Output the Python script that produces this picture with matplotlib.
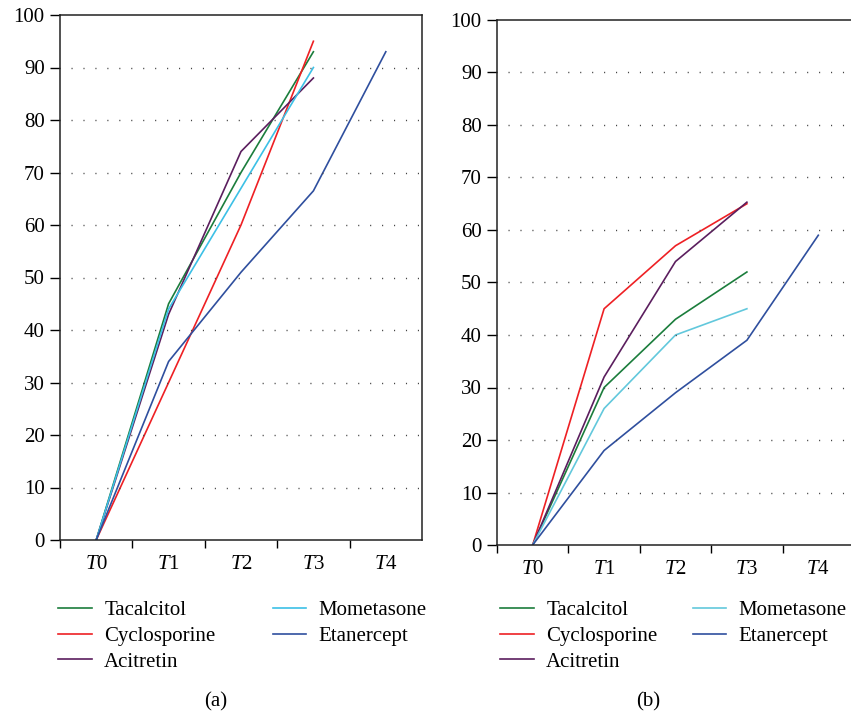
import matplotlib
matplotlib.use('Agg')
import matplotlib.pyplot as plt
import numpy as np

plt.rcParams['font.family'] = ['Liberation Serif', 'DejaVu Serif']
plt.rcParams['mathtext.fontset'] = 'custom'
plt.rcParams['mathtext.rm'] = 'Liberation Serif'
plt.rcParams['mathtext.it'] = 'Liberation Serif:italic'

times = [r'$T$0', r'$T$1', r'$T$2', r'$T$3', r'$T$4']
drugs = ['Tacalcitol', 'Cyclosporine', 'Acitretin', 'Mometasone', 'Etanercept']

# panel (a)
a_tacalcitol = [0, 45, 70, 93]
a_cyclosporine = [0, 30, 60, 95]
a_acitretin = [0, 43, 74, 88]
a_mometasone = [0, 44, 67, 90]
a_etanercept = [0, 34, 51, 66.5, 93]

# panel (b)
b_tacalcitol = [0, 30, 43, 52]
b_cyclosporine = [0, 45, 57, 65]
b_acitretin = [0, 32, 54, 65.3]
b_mometasone = [0, 26, 40, 45]
b_etanercept = [0, 18, 29, 39, 59]

colors_a = ['#1b7d3c', '#ee2024', '#5b1e5e', '#3cc0e6', '#2f4f9e']
colors_b = ['#1b7d3c', '#ee2024', '#5b1e5e', '#62c8dc', '#2f4f9e']

FS = 15


def draw_panel(ax, series, colors):
	for name, vals, c in zip(drugs, series, colors):
		ax.plot(np.arange(len(vals)), vals, color=c, lw=1.2, label=name)
	ax.set_xlim(-0.5, 4.5)
	ax.set_ylim(0, 100)
	ax.set_yticks(np.arange(0, 101, 10))
	ax.set_xticks(np.arange(-0.5, 4.0, 1.0))
	ax.set_xticklabels([])
	ax.set_xticks(np.arange(5), minor=True)
	ax.set_xticklabels(times, minor=True)
	ax.tick_params(axis='x', which='major', direction='out', length=6, width=1)
	ax.tick_params(axis='x', which='minor', length=0, pad=11, labelsize=FS)
	ax.tick_params(axis='y', direction='out', length=7, width=1, labelsize=FS, pad=4)
	for s in ax.spines.values():
		s.set_linewidth(1.1)
		s.set_color('#222222')
	for y in range(10, 100, 10):
		ax.axhline(y, xmin=0.03, color='#444444', lw=1, ls=(0, (0.8, 7.8)))
	ax.set_axisbelow(True)


fig = plt.figure(figsize=(8.51, 7.14), dpi=100)
ax1 = fig.add_axes([60 / 851, 1 - 540 / 714, 362 / 851, 525 / 714])
ax2 = fig.add_axes([497 / 851, 1 - 545 / 714, 357 / 851, 525 / 714])

draw_panel(ax1, [a_tacalcitol, a_cyclosporine, a_acitretin, a_mometasone, a_etanercept], colors_a)
draw_panel(ax2, [b_tacalcitol, b_cyclosporine, b_acitretin, b_mometasone, b_etanercept], colors_b)

for ax, x0, colsp in [(ax1, 48, 2.75), (ax2, 490, 1.7)]:
	h, l = ax.get_legend_handles_labels()
	fig.legend(h, l, ncol=2, loc='upper left', bbox_to_anchor=(x0 / 851, 1 - 590 / 714),
		frameon=False, fontsize=FS, handlelength=1.6, handletextpad=0.6,
		columnspacing=colsp, labelspacing=0.3, borderpad=0)

fig.text(216 / 851, 1 - 702 / 714, '(a)', ha='center', va='center', fontsize=FS)
fig.text(648 / 851, 1 - 702 / 714, '(b)', ha='center', va='center', fontsize=FS)

fig.savefig('out.png', dpi=100)
